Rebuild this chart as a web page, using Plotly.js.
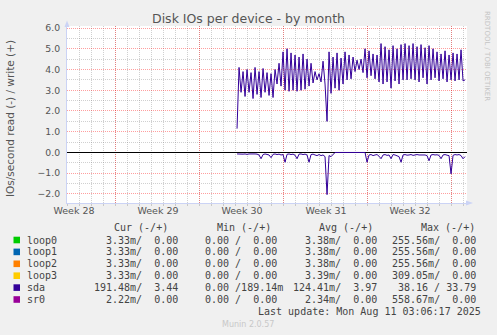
<!DOCTYPE html>
<html><head><meta charset="utf-8">
<script src="https://cdn.plot.ly/plotly-3.0.1.min.js"></script>
<style>html,body{margin:0;padding:0;background:#f0f0f0;}#chart{width:497px;height:335px;}</style>
</head><body><div id="chart"></div>
<script>
// ---- data ----
const weekLabels = ['Week 28','Week 29','Week 30','Week 31','Week 32'];
const weekStartDays = [4.08, 11.08, 18.08, 25.08, 32.08];   // days since graph start
const graphDays = 33.333;
const sdaStartDay = 14.17;
const sdaStepDays = 1/6;   // 4-hour samples

const sdaWrite = [
 1.15,4.10,2.90,3.90,2.70,4.00,2.90,3.85,2.60,4.10,
 2.80,3.90,2.65,4.05,2.90,3.85,2.75,3.80,2.65,4.00,
 3.30,4.30,3.20,4.85,3.00,5.00,2.95,4.80,3.00,4.70,
 2.95,4.60,3.00,4.75,3.05,4.50,3.20,4.30,3.35,3.90,
 3.50,3.80,3.40,4.40,3.30,1.50,4.85,2.85,4.60,3.10,
 4.80,3.00,4.55,3.30,4.85,3.50,4.70,3.55,4.60,3.90,
 4.45,4.00,4.50,3.85,5.00,3.60,4.90,3.70,4.75,3.55,
 4.70,3.40,5.25,3.30,5.10,3.40,4.95,3.10,5.15,3.45,
 5.00,3.30,5.20,3.50,5.25,3.50,5.15,3.55,5.25,3.50,
 5.10,3.40,5.20,3.60,5.05,3.30,5.15,3.50,5.00,3.60,
 4.85,3.45,4.75,3.55,4.90,3.40,4.70,3.50,4.80,3.45,
 4.75,3.50,4.95,3.45,3.50
];
const sdaRead = [
 -0.07,-0.08,-0.06,-0.08,-0.07,-0.09,-0.07,-0.06,-0.08,-0.07,
 -0.08,-0.12,-0.30,-0.10,-0.07,-0.08,-0.12,-0.25,-0.09,-0.07,
 -0.10,-0.08,-0.12,-0.10,-0.47,-0.09,-0.07,-0.10,-0.08,-0.13,
 -0.30,-0.08,-0.07,-0.10,-0.08,-0.12,-0.47,-0.10,-0.08,-0.12,
 -0.15,-0.10,-0.15,-0.12,-0.20,-2.03,-0.15,-0.20,-0.12,0,
 0,0,0,0,0,0,0,0,0,0,
 0,0,0,0,0,-0.47,-0.12,-0.10,-0.15,-0.12,
 -0.10,-0.18,-0.30,-0.12,-0.10,-0.14,-0.12,-0.30,-0.10,-0.12,
 -0.15,-0.20,-0.47,-0.12,-0.10,-0.13,-0.12,-0.10,-0.14,-0.12,
 -0.10,-0.12,-0.11,-0.13,-0.12,-0.15,-0.40,-0.12,-0.10,-0.12,
 -0.11,-0.14,-0.30,-0.12,-0.10,-0.13,-0.15,-1.03,-0.14,-0.10,
 -0.12,-0.10,-0.15,-0.30,-0.20
];

const legendNames  = ['loop0','loop1','loop2','loop3','sda','sr0'];
const legendColors = ['#00cc00','#0066b3','#ff8000','#ffcc00','#330099','#990099'];
const legendHeaders = ['Cur (-/+)','Min (-/+)','Avg (-/+)','Max (-/+)'];
const curVals = ['3.33m/  0.00 ','3.33m/  0.00 ','3.33m/  0.00 ','3.33m/  0.00 ','191.48m/  3.44 ','2.22m/  0.00 '];
const minVals = ['0.00 /  0.00 ','0.00 /  0.00 ','0.00 /  0.00 ','0.00 /  0.00 ','0.00 /189.14m','0.00 /  0.00 '];
const avgVals = ['3.38m/  0.00 ','3.38m/  0.00 ','3.38m/  0.00 ','3.39m/  0.00 ','124.41m/  3.97 ','2.34m/  0.00 '];
const maxVals = ['255.56m/  0.00 ','255.56m/  0.00 ','255.56m/  0.00 ','309.05m/  0.00 ','38.16 / 33.79 ','558.67m/  0.00 '];
const lastUpdate = 'Last update: Mon Aug 11 03:06:17 2025';

// ---- layout helpers ----
const W=497,H=335,L=67,R=30,T=26,B=132;
const px = x => (x - L)/(W-L-R);
const py = y => (H - B - y)/(H-T-B);
const nb = s => s.replace(/ /g,'\u00a0');

const sdaTimes = sdaWrite.map((_, i) => sdaStartDay + i*sdaStepDays);
const weekLabelDays = weekStartDays.map(d => d - 3.5);

const AXIS = '#cbd3f5';
const RED = 'rgba(255,0,0,0.38)';
const GRAY = 'rgba(128,128,128,0.37)';
const MONO = {family:'DejaVu Sans Mono', size:10, color:'#444'};

const traces = [
  {x:sdaTimes, y:sdaRead, type:'scatter', mode:'lines', line:{color:legendColors[4], width:1}, hoverinfo:'skip', showlegend:false},
  {x:sdaTimes, y:sdaWrite, type:'scatter', mode:'lines', line:{color:legendColors[4], width:1}, hoverinfo:'skip', showlegend:false},
  // carrier for the week-label axis (no visible marks)
  {x:weekLabelDays, y:weekLabelDays.map(()=>null), xaxis:'x2', yaxis:'y', type:'scatter', mode:'lines', hoverinfo:'skip', showlegend:false}
];

const annotations = [];
const shapes = [];
function ann(text, x, y, xanchor, font, extra){
  annotations.push(Object.assign({text:nb(text), x:px(x), y:py(y), xref:'paper', yref:'paper',
    xanchor:xanchor, yanchor:'middle', showarrow:false, font:font, borderpad:0}, extra||{}));
}
// y-axis title
ann('IOs/second read (-) / write (+)', 10, 119, 'center', {family:'DejaVu Sans', size:10.5, color:'#555'}, {textangle:-90});
// rrdtool credit
ann('RRDTOOL / TOBI OETIKER', 487, 56, 'center', {family:'DejaVu Sans', size:7, color:'#c4c4c4'}, {textangle:90});
// legend header
const headerEnds = [169, 272, 374, 476];
legendHeaders.forEach((h,i)=>ann(h, headerEnds[i], 227.5, 'right', MONO));
// legend rows
const colEnds = [185, 284, 384, 483];
legendNames.forEach((n,i)=>{
  const y = 240 + i*11.9;
  shapes.push({type:'rect', xref:'paper', yref:'paper', x0:px(13.5), x1:px(20), y0:py(y-3.3), y1:py(y+3.3),
    fillcolor:legendColors[i], line:{width:0}});
  ann(n, 26, y, 'left', MONO);
  [curVals, minVals, avgVals, maxVals].forEach((arr,c)=>ann(arr[i], colEnds[c], y, 'right', MONO));
});
ann(lastUpdate, 482, 311.5, 'right', MONO);
ann('Munin 2.0.57', 248, 324, 'center', {family:'DejaVu Sans', size:8, color:'#c8c8c8'});

// axis arrows
shapes.push({type:'path', xref:'paper', yref:'paper', layer:'above',
  path:`M ${px(64.5)} ${py(27)} L ${px(67)} ${py(20.5)} L ${px(69.5)} ${py(27)} Z`, fillcolor:AXIS, line:{width:0}});
shapes.push({type:'path', xref:'paper', yref:'paper', layer:'above',
  path:`M ${px(466)} ${py(200.5)} L ${px(473)} ${py(203)} L ${px(466)} ${py(205.5)} Z`, fillcolor:AXIS, line:{width:0}});

const layout = {
  width:W, height:H,
  margin:{l:L, r:R, t:T, b:B, pad:0},
  paper_bgcolor:'#f0f0f0', plot_bgcolor:'#ffffff',
  showlegend:false,
  title:{text:'Disk IOs per device - by month', x:0.5, xref:'container', xanchor:'center',
         y:1-19/H, yref:'container', yanchor:'middle',
         font:{family:'DejaVu Sans', size:12.5, color:'#555'}},
  xaxis:{range:[0, graphDays], tickmode:'array', tickvals:weekStartDays, ticktext:weekStartDays.map(()=>''),
         showticklabels:false, showgrid:true, gridcolor:RED, griddash:'1px,1px', gridwidth:1,
         ticks:'outside', ticklen:2, tickcolor:'rgba(255,0,0,0.5)', tickwidth:1,
         showline:true, linecolor:AXIS, linewidth:1, zeroline:false, fixedrange:true,
         minor:{tick0:weekStartDays[0], dtick:1, showgrid:true, gridcolor:GRAY, griddash:'1px,1px', gridwidth:1,
                ticks:'outside', ticklen:2, tickcolor:'#c8c8c8'}},
  xaxis2:{overlaying:'x', anchor:'y', side:'bottom', range:[0, graphDays], tickmode:'array',
          tickvals:weekLabelDays, ticktext:weekLabels, showgrid:false, zeroline:false, showline:false,
          ticks:'', tickfont:{family:'DejaVu Sans', size:9.5, color:'#555'}, fixedrange:true},
  yaxis:{range:[-2.435, 6.097], tick0:0, dtick:1, tickformat:'.1f',
         showgrid:true, gridcolor:RED, griddash:'1px,1px', gridwidth:1,
         zeroline:true, zerolinecolor:'#000000', zerolinewidth:1,
         showline:true, linecolor:AXIS, linewidth:1, ticks:'', ticklabelstandoff:4,
         tickfont:{family:'DejaVu Sans', size:9.3, color:'#555'}, fixedrange:true,
         minor:{dtick:0.5, showgrid:true, gridcolor:GRAY, griddash:'1px,1px', gridwidth:1}},
  annotations:annotations,
  shapes:shapes
};

Plotly.newPlot('chart', traces, layout, {displayModeBar:false, staticPlot:true});
</script>
</body></html>
